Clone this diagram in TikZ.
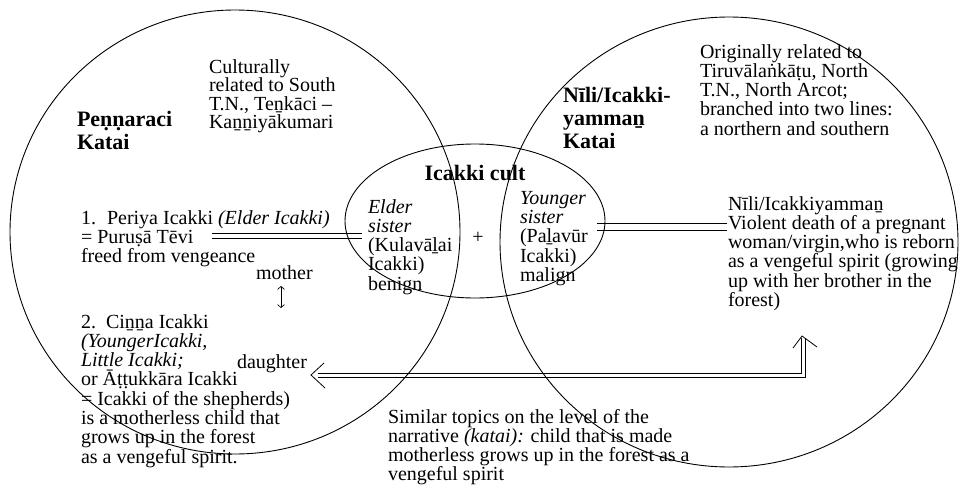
\documentclass[tikz,border=0pt]{standalone}
\usepackage{fontspec}
\setmainfont{Liberation Serif}
\usetikzlibrary{shapes.geometric,arrows.meta}
\lineskiplimit=-50pt
\begin{document}
\begin{tikzpicture}[x=1pt,y=-1pt,
  txt/.style={inner sep=0pt,outer sep=0pt,anchor=base west,align=left,font=\fontsize{20}{19.3}\selectfont},
  ttl/.style={inner sep=0pt,outer sep=0pt,anchor=base west,align=left,font=\fontsize{22}{23}\selectfont\bfseries},
  ring/.style={ellipse,draw,line width=0.9pt,inner sep=0pt,outer sep=0pt},
  conn/.style={line width=0.8pt,line join=miter},
  barb/.style={line width=0.8pt,line join=miter}
]
\fill[white] (0,0) rectangle (961,487);
\useasboundingbox (0,0) rectangle (961,487);

% connectors (double lines)
\coordinate (lA) at (212,235.5);
\coordinate (lB) at (362,235.5);
\draw[conn] ([shift={(0,-2.5)}]lA) -- ([shift={(0,-2.5)}]lB);
\draw[conn] ([shift={(0,2.5)}]lA) -- ([shift={(0,2.5)}]lB);
\coordinate (rA) at (597,226.5);
\coordinate (rB) at (727,226.5);
\draw[conn] ([shift={(0,-3.5)}]rA) -- ([shift={(0,-3.5)}]rB);
\draw[conn] ([shift={(0,3.5)}]rA) -- ([shift={(0,3.5)}]rB);
\coordinate (aTop) at (803,338);
\coordinate (aEnd) at (318,375);
\draw[conn] ([shift={(2,0)}]aTop) |- ([shift={(0,2)}]aEnd);
\draw[conn] ([shift={(-2,0)}]aTop) |- ([shift={(0,-2)}]aEnd);
\coordinate (tipT) at (802,336);
\draw[barb] ([shift={(-9,12)}]tipT) -- (tipT) -- ([shift={(15,11)}]tipT);
\coordinate (tipL) at (311,375);
\draw[barb] ([shift={(13,-12)}]tipL) -- (tipL) -- ([shift={(14,13)}]tipL);

% rings
\node[ring,minimum width=450pt,minimum height=444pt] (circL) at (235,232) {};
\node[ring,minimum width=458pt,minimum height=450pt] (circR) at (729,242) {};
\node[ring,minimum width=260pt,minimum height=154pt] (cult) at (475,221) {};

% texts (anchored at the baseline of their last line)
\node[ttl] (pennTitle) at (77,149) {Peṇṇaraci\\Katai};
\node[txt,font=\fontsize{20}{18.5}\selectfont] (pennInfo) at (209,128.5) {Culturally\\related to South\\T.N., Teṉkāci –\\Kaṉṉiyākumari};
\node[ttl] (niliTitle) at (563,148) {Nīli/Icakki-\\yammaṉ\\Katai};
\node[txt] (niliInfo) at (700,135.2) {Originally related to\\Tiruvālaṅkāṭu, North\\T.N., North Arcot;\\branched into two lines:\\a northern and southern};
\node[txt] (periya) at (81,262.6) {\makebox[26pt][l]{1.}Periya Icakki \textit{(Elder Icakki)}\\= Puruṣā Tēvi\\freed from vengeance};
\node[txt] (mother) at (256,279) {mother};
\coordinate (mA) at (281,286);
\coordinate (mB) at (281,308);
\draw[line width=0.7pt,{Straight Barb[length=3pt,width=7pt]}-{Straight Barb[length=3pt,width=7pt]}] (mA) -- (mB);
\node[txt] (cinna) at (81,463.1) {\makebox[25pt][l]{2.}Ciṉṉa Icakki\\\textit{(YoungerIcakki,}\\\textit{Little Icakki;}\\or Āṭṭukkāra Icakki\\= Icakki of the shepherds)\\is a motherless child that\\grows up in the forest\\as a vengeful spirit.};
\node[txt] (daughter) at (237,368) {daughter};
\node[inner sep=0pt,anchor=base,font=\fontsize{22}{23}\selectfont\bfseries] (cultTitle) at (475,180) {Icakki cult};
\node[txt] (elder) at (368,290.2) {\textit{Elder}\\\textit{sister}\\(Kulavāḻai\\Icakki)\\benign};
\node[inner sep=0pt,font=\fontsize{20}{19.3}\selectfont] (plus) at (478,238) {+};
\node[txt] (younger) at (520,281.5) {\textit{Younger}\\\textit{sister}\\(Paḻavūr\\Icakki)\\malign};
\node[txt] (niliDesc) at (728,306.5) {Nīli/Icakkiyammaṉ\\Violent death of a pregnant\\woman/virgin,who is reborn\\as a vengeful spirit (growing\\up with her brother in the\\forest)};
\node[txt] (similar) at (388,480.9) {Similar topics on the level of the\\narrative \textit{(katai):} child that is made\\motherless grows up in the forest as a\\vengeful spirit};
\end{tikzpicture}
\end{document}
